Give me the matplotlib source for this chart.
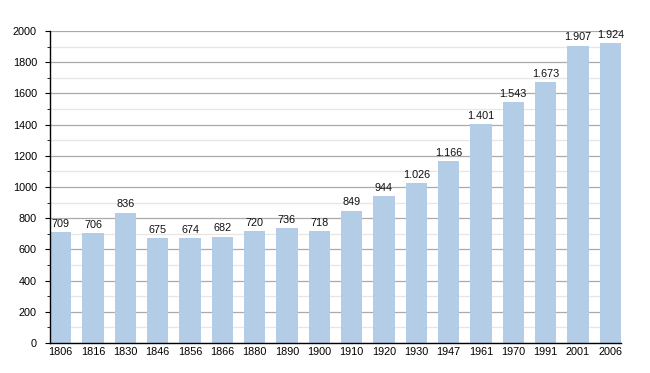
import matplotlib
matplotlib.use("Agg")
import matplotlib.pyplot as plt
from matplotlib.ticker import MultipleLocator

years = ["1806","1816","1830","1846","1856","1866","1880","1890","1900","1910",
         "1920","1930","1947","1961","1970","1991","2001","2006"]
population = [709,706,836,675,674,682,720,736,718,849,944,1026,1166,1401,1543,1673,1907,1924]
labels = ["709","706","836","675","674","682","720","736","718","849","944",
          "1.026","1.166","1.401","1.543","1.673","1.907","1.924"]

plt.rcParams['font.family'] = ['Liberation Sans', 'DejaVu Sans']
fig = plt.figure(figsize=(6.5, 3.73), dpi=100)
ax = fig.add_axes([50/650, 30/373, 571/650, 312/373])

x = list(range(len(years)))
ax.bar(x, population, width=0.66, color="#b3cde6", zorder=2)
for xi, v, l in zip(x, population, labels):
    ax.text(xi, v + 20, l, ha="center", va="bottom", fontsize=7.8, color="#111111")

ax.set_xlim(-0.33, len(years) - 1 + 0.33)
ax.set_ylim(0, 2000)
ax.set_xticks(x)
ax.set_xticklabels(years)
ax.yaxis.set_major_locator(MultipleLocator(200))
ax.yaxis.set_minor_locator(MultipleLocator(100))
ax.grid(which="major", axis="y", color="#aaaaaa", linewidth=0.9, zorder=0)
ax.grid(which="minor", axis="y", color="#e6e6e6", linewidth=0.9, zorder=0)
ax.set_axisbelow(True)
for s in ["top", "right"]:
    ax.spines[s].set_visible(False)
ax.spines["left"].set_linewidth(1.0)
ax.spines["bottom"].set_linewidth(1.0)
ax.tick_params(axis="y", which="major", length=3.6, labelsize=7.8, pad=5.8)
ax.tick_params(axis="y", which="minor", length=2.2)
ax.tick_params(axis="x", length=0, labelsize=7.8, pad=3)

fig.savefig("out.png", dpi=100)
